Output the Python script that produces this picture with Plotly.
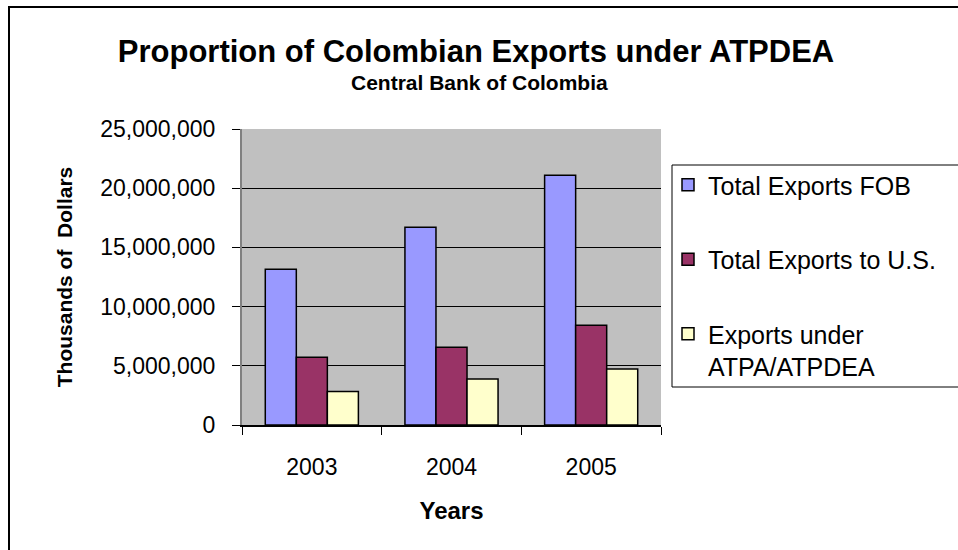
import plotly.graph_objects as go

years = ["2003", "2004", "2005"]
series_names = ["Total Exports FOB", "Total Exports to U.S.", "Exports under<br>ATPA/ATPDEA"]
fob = [13160000, 16710000, 21100000]
to_us = [5720000, 6570000, 8430000]
atpa = [2820000, 3890000, 4730000]
colors = ["#9999FF", "#993366", "#FFFFCC"]
y_ticks = [0, 5000000, 10000000, 15000000, 20000000, 25000000]

W, H = 958, 550
L, R, T, B = 242, 661, 129, 425

fig = go.Figure()
for i, (name, vals) in enumerate(zip(series_names, [fob, to_us, atpa])):
    fig.add_trace(go.Bar(
        x=years, y=vals, name=name,
        marker=dict(color=colors[i], line=dict(color="black", width=1.5)),
        legendgroup=f"g{i}",
    ))

font = "Liberation Sans, Arial, sans-serif"
fig.update_layout(
    width=W, height=H,
    margin=dict(l=L, r=W - R, t=T, b=H - B, pad=0),
    paper_bgcolor="white",
    plot_bgcolor="#C0C0C0",
    barmode="group",
    bargap=1/3,
    bargroupgap=0,
    font=dict(family=font, size=23, color="black"),
    title=dict(
        text="<b>Proportion of Colombian Exports under ATPDEA</b>",
        x=476 / W, xref="container", xanchor="center",
        y=1 - 51 / H, yref="container", yanchor="middle",
        font=dict(size=31, family=font, color="black"),
    ),
    showlegend=True,
    legend=dict(
        x=(668 - L) / (R - L), xanchor="left",
        y=1 - (162 - T) / (B - T), yanchor="top",
        bgcolor="rgba(0,0,0,0)",
        borderwidth=0,
        tracegroupgap=39,
        valign="top",
        font=dict(size=25, family=font),
        traceorder="grouped",
    ),
    xaxis=dict(
        type="category",
        showgrid=False,
        showline=True, linecolor="black", linewidth=1.5,
        ticks="outside", ticklen=8, tickcolor="black", tickwidth=1,
        tickson="boundaries",
        ticklabelstandoff=21,
        tickfont=dict(size=23),
        title=dict(text="<b>Years</b>", font=dict(size=24), standoff=23),
    ),
    yaxis=dict(
        range=[0, 25000000],
        tickvals=y_ticks,
        tickformat=",d",
        showgrid=True, gridcolor="black", gridwidth=1,
        zeroline=False,
        showline=True, linecolor="#808080", linewidth=2,
        ticks="outside", ticklen=8, tickcolor="black", tickwidth=1,
        ticklabelstandoff=12,
        tickfont=dict(size=23),
        title=dict(text="<b>Thousands of  Dollars</b>", font=dict(size=21), standoff=22),
    ),
)

fig.add_annotation(
    text="<b>Central Bank of Colombia</b>",
    xref="paper", yref="paper",
    x=(479 - L) / (R - L), y=1 + (T - 83) / (B - T),
    xanchor="center", yanchor="middle", showarrow=False,
    font=dict(size=21, family=font, color="black"),
)

# outer chart border (left and top visible)
fig.add_shape(type="rect", xref="paper", yref="paper",
              x0=(9 - L) / (R - L), x1=(970 - L) / (R - L),
              y0=1 + (T - 7) / (B - T), y1=1 - (560 - T) / (B - T),
              line=dict(color="black", width=2), fillcolor="rgba(0,0,0,0)", layer="below")
# legend box
fig.add_shape(type="rect", xref="paper", yref="paper",
              x0=(672 - L) / (R - L), x1=(975 - L) / (R - L),
              y0=1 - (165 - T) / (B - T), y1=1 - (387 - T) / (B - T),
              line=dict(color="black", width=1), fillcolor="white", layer="below")

fig.write_html("out.html")
